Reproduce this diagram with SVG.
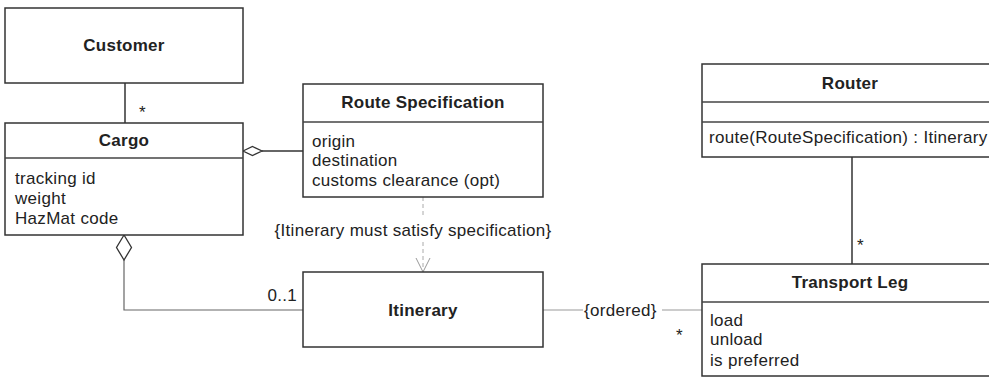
<svg xmlns="http://www.w3.org/2000/svg" width="989" height="377" viewBox="0 0 989 377">
<style>
  .box { fill: #fff; stroke: #333; stroke-width: 1.5; }
  .div { stroke: #444; stroke-width: 1.3; fill: none; }
  .t { font-family: "Liberation Sans", Arial, sans-serif; font-size: 17px; fill: #222; letter-spacing: 0.3px; }
  .b { font-weight: bold; letter-spacing: 0.25px; }
  .c { text-anchor: middle; }
  .ln { stroke: #333; stroke-width: 1.5; fill: none; }
  .thin { stroke: #666; stroke-width: 1.2; fill: none; }
  .light { stroke: #999; stroke-width: 1; fill: none; }
  .dash { stroke: #aaa; stroke-width: 1; fill: none; stroke-dasharray: 4 3; }
  .dia { fill: #fff; stroke: #333; stroke-width: 1.3; }
</style>
<rect width="989" height="377" fill="#fff"/>

<g id="connectors">
  <line class="ln" x1="125" y1="83" x2="125" y2="123"/>
  <text class="t" x="139" y="118">*</text>
  <line class="ln" x1="262" y1="151" x2="303" y2="151"/>
  <polygon class="dia" points="243,151 252.5,146.5 262,151 252.5,155.5"/>
  <polyline class="thin" points="124,260 124,310 303,310"/>
  <polygon class="dia" points="124,235 116.5,247.5 124,260 131.5,247.5"/>
  <text class="t" x="297" y="301" text-anchor="end">0..1</text>
  <line class="dash" x1="423" y1="197" x2="423" y2="218"/>
  <line class="dash" x1="423" y1="242" x2="423" y2="271"/>
  <polyline class="light" points="416,258 423,272 430,258"/>
  <text class="t c" x="413" y="236">{Itinerary must satisfy specification}</text>
  <line class="light" x1="543" y1="310" x2="583" y2="310"/>
  <text class="t" x="584" y="316">{ordered}</text>
  <line class="light" x1="662" y1="310" x2="702" y2="310"/>
  <text class="t" x="676" y="341">*</text>
  <line class="ln" x1="852" y1="157" x2="852" y2="264"/>
  <text class="t" x="857" y="251">*</text>
</g>

<g id="customer">
  <rect class="box" x="5" y="8" width="238" height="75"/>
  <text class="t b c" x="124" y="51">Customer</text>
</g>

<g id="cargo">
  <rect class="box" x="5" y="123" width="238" height="112"/>
  <line class="div" x1="5" y1="158" x2="243" y2="158"/>
  <text class="t b c" x="124" y="146">Cargo</text>
  <text class="t" x="15" y="184">tracking id</text>
  <text class="t" x="15" y="204">weight</text>
  <text class="t" x="15" y="224">HazMat code</text>
</g>

<g id="route-specification">
  <rect class="box" x="303" y="84" width="240" height="113"/>
  <line class="div" x1="303" y1="122" x2="543" y2="122"/>
  <text class="t b c" x="423" y="108">Route Specification</text>
  <text class="t" x="312" y="147">origin</text>
  <text class="t" x="312" y="166">destination</text>
  <text class="t" x="312" y="186">customs clearance (opt)</text>
</g>

<g id="itinerary">
  <rect class="box" x="303" y="272" width="240" height="75"/>
  <text class="t b c" x="423" y="316">Itinerary</text>
</g>

<g id="router">
  <rect class="box" x="702" y="64" width="300" height="93"/>
  <line class="div" x1="702" y1="102" x2="1002" y2="102"/>
  <line class="div" x1="702" y1="122" x2="1002" y2="122"/>
  <text class="t b c" x="850" y="89">Router</text>
  <text class="t" x="709" y="143">route(RouteSpecification) : Itinerary</text>
</g>

<g id="transport-leg">
  <rect class="box" x="702" y="264" width="300" height="112"/>
  <line class="div" x1="702" y1="302" x2="1002" y2="302"/>
  <text class="t b c" x="850" y="288">Transport Leg</text>
  <text class="t" x="710" y="326">load</text>
  <text class="t" x="710" y="345">unload</text>
  <text class="t" x="710" y="366">is preferred</text>
</g>
</svg>
